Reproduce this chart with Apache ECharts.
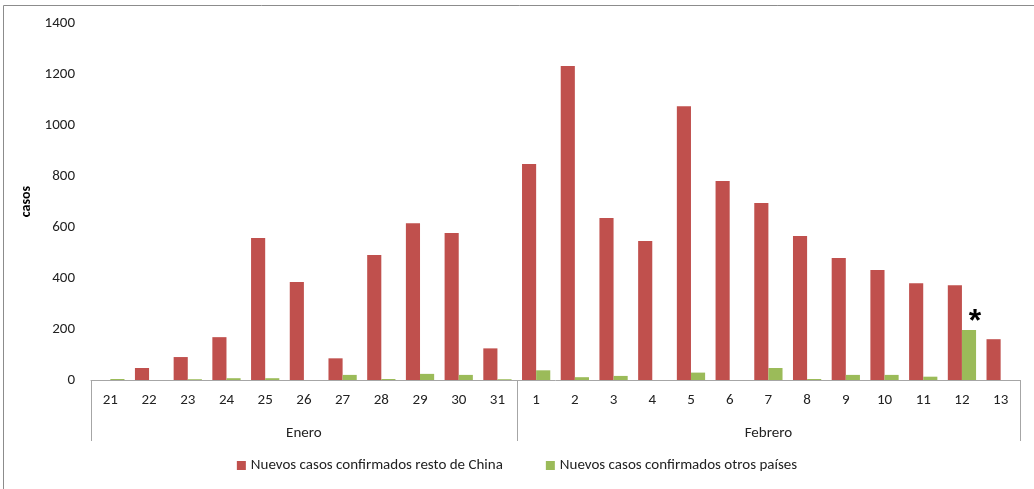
<!DOCTYPE html>
<html>
<head>
<meta charset="utf-8">
<script src="https://cdn.jsdelivr.net/npm/echarts@6/dist/echarts.min.js"></script>
<style>html,body{margin:0;padding:0;background:#fff;}#c{width:1034px;height:489px;}</style>
</head>
<body>
<div id="c"></div>
<script>
const days = ['21','22','23','24','25','26','27','28','29','30','31','1','2','3','4','5','6','7','8','9','10','11','12','13'];
const months = ['','','','','','Enero','','','','','','','','','','','','Febrero','','','','','',''];
const monthStarts = [0, 11];
const chinaValues = [0,47,90,168,557,384,85,490,615,576,124,847,1231,635,545,1074,780,694,565,478,431,379,372,160];
const otherValues = [4,0,3,7,7,0,20,4,24,20,3,38,11,16,0,29,0,47,4,20,20,13,196,0];
const yTicks = [0,200,400,600,800,1000,1200,1400];
const starIndex = 22;

const FONT = "'Carlito','Liberation Sans',sans-serif";
const chart = echarts.init(document.getElementById('c'));
const otherData = otherValues.map((v,i)=> i===starIndex ? {value:v,label:{show:true,formatter:'*',position:'top',offset:[6,13],fontSize:32,fontWeight:'bold',color:'#000',fontFamily:'Liberation Sans'}} : v);
chart.setOption({
  animation:false,
  textStyle:{fontFamily:FONT},
  graphic:[{type:'rect',shape:{x:3.5,y:5.5,width:1040,height:500},style:{fill:'none',stroke:'#8c8c8c',lineWidth:1},silent:true,z:-10}],
  grid:{left:91,right:14,top:23,bottom:109,containLabel:false},
  legend:{bottom:11,left:'center',itemWidth:9,itemHeight:9,itemGap:43,icon:'rect',
    textStyle:{fontSize:15,color:'#222',fontFamily:FONT},
    data:['Nuevos casos confirmados resto de China','Nuevos casos confirmados otros países']},
  xAxis:[{type:'category',data:days,position:'bottom',
    axisLine:{lineStyle:{color:'#a6a6a6',width:1}},
    axisTick:{show:true,length:61,interval:function(i){return monthStarts.indexOf(i)>=0;},lineStyle:{color:'#a6a6a6'}},
    axisLabel:{fontSize:15,color:'#222',margin:13,interval:0,fontFamily:FONT}},
   {type:'category',data:months,position:'bottom',offset:0,gridIndex:0,
    axisLine:{show:false},axisTick:{show:false},
    axisLabel:{fontSize:15,color:'#222',margin:46,interval:0,fontFamily:FONT}}],
  yAxis:{type:'value',min:0,max:1400,interval:200,
    name:'casos',nameLocation:'middle',nameGap:53,nameRotate:90,
    nameTextStyle:{fontWeight:'bold',fontSize:14,color:'#000',fontFamily:FONT},
    axisLine:{show:false},axisTick:{show:false},splitLine:{show:false},
    axisLabel:{fontSize:15,color:'#222',margin:16,fontFamily:FONT,
      formatter:function(v){return yTicks.indexOf(v)>=0?String(v):'';}}},
  series:[
    {name:'Nuevos casos confirmados resto de China',type:'bar',data:chinaValues,barGap:'0%',barCategoryGap:'27%',itemStyle:{color:'#C0504D'}},
    {name:'Nuevos casos confirmados otros países',type:'bar',data:otherData,itemStyle:{color:'#9BBB59'}}
  ]
});
</script>
</body>
</html>
